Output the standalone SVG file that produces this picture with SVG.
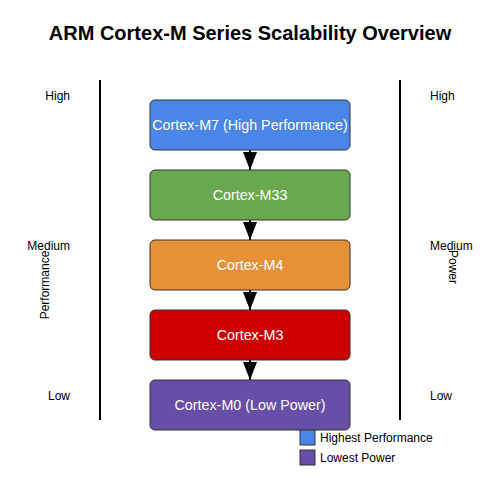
<svg xmlns="http://www.w3.org/2000/svg" width="500" height="500" viewBox="0 0 500 500">
<defs>
<style>
text{font-family:"Liberation Sans",Arial,sans-serif}
.title{font-size:20px;font-weight:bold;fill:#000}
.box{stroke:#333;stroke-width:1}
.lbl{font-size:14.3px;fill:#fff;text-anchor:middle}
.axis{stroke:#000;stroke-width:2}
.tick{font-size:12px;fill:#000}
.leg{font-size:12px;fill:#000}
.conn{stroke:#000;stroke-width:2;fill:none}
</style>
<marker id="arr" viewBox="0 0 18 14" refX="18" refY="7" markerWidth="18" markerHeight="14" markerUnits="userSpaceOnUse" orient="auto">
<path d="M0,0 L18,7 L0,14 z" fill="#000"/>
</marker>
</defs>
<rect width="500" height="500" fill="#fff"/>
<text class="title" x="250" y="40" text-anchor="middle">ARM Cortex-M Series Scalability Overview</text>
<g id="axis-performance">
<line class="axis" x1="100" y1="80" x2="100" y2="420"/>
<text class="tick" x="70" y="100" text-anchor="end">High</text>
<text class="tick" x="70" y="250" text-anchor="end">Medium</text>
<text class="tick" x="70" y="400" text-anchor="end">Low</text>
<text class="tick" transform="translate(49,285) rotate(-90)" text-anchor="middle">Performance</text>
</g>
<g id="axis-power">
<line class="axis" x1="400" y1="80" x2="400" y2="420"/>
<text class="tick" x="430" y="100">High</text>
<text class="tick" x="430" y="250">Medium</text>
<text class="tick" x="430" y="400">Low</text>
<text class="tick" transform="translate(449,267) rotate(90)" text-anchor="middle">Power</text>
</g>
<g id="connectors">
<line class="conn" x1="250" y1="150" x2="250" y2="170" marker-end="url(#arr)"/>
<line class="conn" x1="250" y1="220" x2="250" y2="240" marker-end="url(#arr)"/>
<line class="conn" x1="250" y1="290" x2="250" y2="310" marker-end="url(#arr)"/>
<line class="conn" x1="250" y1="360" x2="250" y2="380" marker-end="url(#arr)"/>
</g>
<g id="m7">
<rect class="box" x="150" y="100" width="200" height="50" rx="5" fill="#4a86e8"/>
<text class="lbl" x="250" y="130">Cortex-M7 (High Performance)</text>
</g>
<g id="m33">
<rect class="box" x="150" y="170" width="200" height="50" rx="5" fill="#6aa84f"/>
<text class="lbl" x="250" y="200">Cortex-M33</text>
</g>
<g id="m4">
<rect class="box" x="150" y="240" width="200" height="50" rx="5" fill="#e69138"/>
<text class="lbl" x="250" y="270">Cortex-M4</text>
</g>
<g id="m3">
<rect class="box" x="150" y="310" width="200" height="50" rx="5" fill="#cc0000"/>
<text class="lbl" x="250" y="340">Cortex-M3</text>
</g>
<g id="m0">
<rect class="box" x="150" y="380" width="200" height="50" rx="5" fill="#674ea7"/>
<text class="lbl" x="250" y="410">Cortex-M0 (Low Power)</text>
</g>
<g id="legend">
<rect class="box" x="300" y="430" width="15" height="15" fill="#4a86e8"/>
<text class="leg" x="320" y="442">Highest Performance</text>
<rect class="box" x="300" y="450" width="15" height="15" fill="#674ea7"/>
<text class="leg" x="320" y="462">Lowest Power</text>
</g>
</svg>
